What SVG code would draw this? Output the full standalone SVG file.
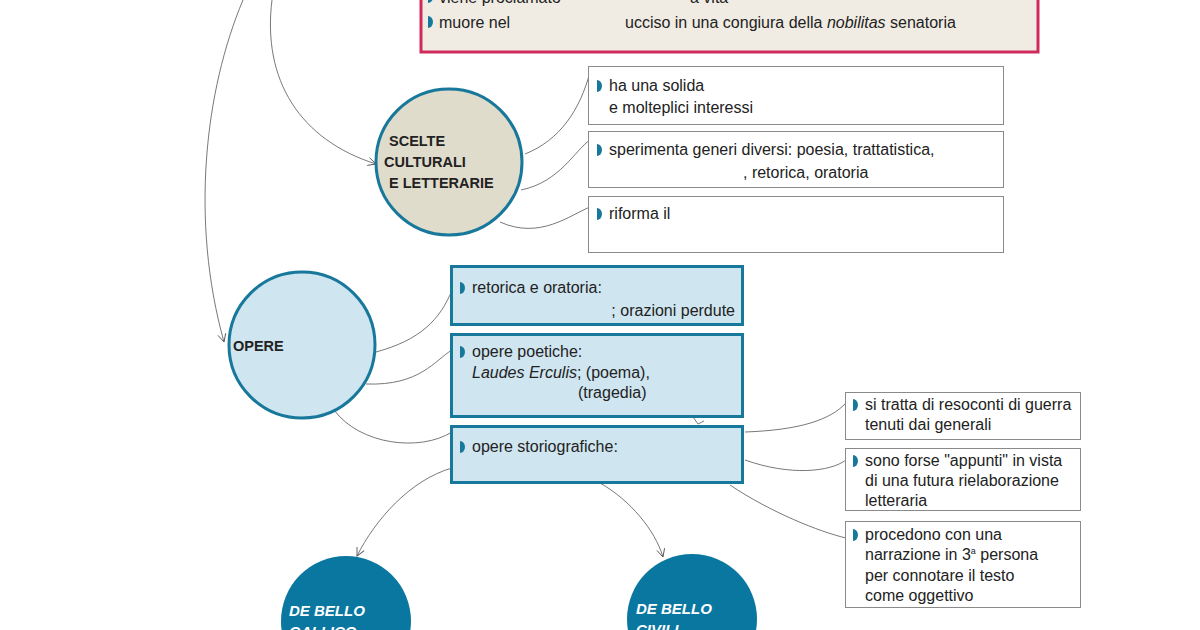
<svg xmlns="http://www.w3.org/2000/svg" width="1200" height="630" viewBox="0 0 1200 630">
<style>
text{font-family:"Liberation Sans",Arial,sans-serif;font-size:16px;fill:#222}
.b{font-weight:bold;font-size:14.5px;fill:#222}
.w{font-weight:bold;font-style:italic;font-size:15px;fill:#fff}
.c{fill:none;stroke:#555;stroke-width:0.8}
.wb{fill:#fff;stroke:#8a8a8a;stroke-width:1}
.lb{fill:#cfe5f0;stroke:#17789b;stroke-width:3}
</style>
<defs>
<path id="bul" d="M0,-6 A5,6 0 0 1 0,6 Z" fill="#17789b"/>
<marker id="ar" markerWidth="10" markerHeight="10" refX="9" refY="5" orient="auto" markerUnits="userSpaceOnUse">
<path d="M1,1 L9,5 L1,9" fill="none" stroke="#555" stroke-width="0.9"/>
</marker>
</defs>
<rect width="1200" height="630" fill="#fff"/>
<g id="connectors">
<path class="c" d="M243,0 C205,90 190,220 224,342" marker-end="url(#ar)"/>
<path class="c" d="M272,0 C262,80 300,140 376,164" marker-end="url(#ar)"/>
<path class="c" d="M525,154 C560,140 580,110 590,72"/>
<path class="c" d="M521,190 C560,182 575,150 590,140"/>
<path class="c" d="M500,222 C540,240 570,215 590,207"/>
<path class="c" d="M376,352 C420,340 440,320 452,290"/>
<path class="c" d="M366,384 C420,386 435,360 452,350"/>
<path class="c" d="M334,410 C360,445 420,452 452,432"/>
<path class="c" d="M745,432 C800,430 830,420 846,403"/>
<path class="c" d="M745,460 C790,476 830,472 846,460"/>
<path class="c" d="M730,485 C770,512 820,532 846,538"/>
<path class="c" d="M452,468 C410,480 375,520 357,556" marker-end="url(#ar)"/>
<path class="c" d="M600,483 C630,500 655,530 663,557" marker-end="url(#ar)"/>
<path class="c" d="M693,417 L698,424 L704,421"/>
</g>
<g id="vita">
<rect x="421" y="-10" width="617" height="62" fill="#f0ece3" stroke="#d02a5a" stroke-width="3"/>
<use href="#bul" x="428" y="-3"/>
<text x="439" y="3">viene proclamato</text>
<text x="690" y="3">a vita</text>
<use href="#bul" x="428" y="22"/>
<text x="439" y="28">muore nel</text>
<text x="625" y="28">ucciso in una congiura della <tspan font-style="italic">nobilitas</tspan> senatoria</text>
</g>
<g id="scelte">
<circle cx="449" cy="162" r="73" fill="#e0dccb" stroke="#17789b" stroke-width="3"/>
<text class="b" x="389" y="146">SCELTE</text>
<text class="b" x="384" y="167">CULTURALI</text>
<text class="b" x="389" y="188">E LETTERARIE</text>
</g>
<g id="s1">
<rect class="wb" x="588.5" y="66.5" width="415" height="58"/>
<use href="#bul" x="597" y="86"/>
<text x="609" y="91">ha una solida</text>
<text x="609" y="113">e molteplici interessi</text>
</g>
<g id="s2">
<rect class="wb" x="588.5" y="131.5" width="415" height="56"/>
<use href="#bul" x="597" y="150"/>
<text x="609" y="155">sperimenta generi diversi: poesia, trattatistica,</text>
<text x="743" y="178">, retorica, oratoria</text>
</g>
<g id="s3">
<rect class="wb" x="588.5" y="196.5" width="415" height="56"/>
<use href="#bul" x="597" y="214"/>
<text x="609" y="219">riforma il</text>
</g>
<g id="opere">
<circle cx="302" cy="345" r="73" fill="#cfe5f0" stroke="#17789b" stroke-width="3"/>
<text class="b" x="233" y="351">OPERE</text>
</g>
<g id="o1">
<rect class="lb" x="451.5" y="266.5" width="291" height="58"/>
<use href="#bul" x="460" y="288"/>
<text x="472" y="293">retorica e oratoria:</text>
<text x="735" y="316" text-anchor="end">; orazioni perdute</text>
</g>
<g id="o2">
<rect class="lb" x="451.5" y="334.5" width="291" height="82"/>
<use href="#bul" x="460" y="352"/>
<text x="472" y="357">opere poetiche:</text>
<text x="472" y="378"><tspan font-style="italic">Laudes Erculis</tspan>; (poema),</text>
<text x="578" y="398">(tragedia)</text>
</g>
<g id="o3">
<rect class="lb" x="451.5" y="426.5" width="291" height="56"/>
<use href="#bul" x="460" y="447"/>
<text x="472" y="452">opere storiografiche:</text>
</g>
<g id="r1">
<rect class="wb" x="845.5" y="392.5" width="235" height="47"/>
<use href="#bul" x="853" y="405"/>
<text x="865" y="410">si tratta di resoconti di guerra</text>
<text x="865" y="430">tenuti dai generali</text>
</g>
<g id="r2">
<rect class="wb" x="845.5" y="448.5" width="235" height="62"/>
<use href="#bul" x="853" y="461"/>
<text x="865" y="466">sono forse "appunti" in vista</text>
<text x="865" y="486">di una futura rielaborazione</text>
<text x="865" y="506">letteraria</text>
</g>
<g id="r3">
<rect class="wb" x="845.5" y="521.5" width="235" height="86"/>
<use href="#bul" x="853" y="535"/>
<text x="865" y="540">procedono con una</text>
<text x="865" y="560">narrazione in 3<tspan font-size="9" dy="-6">a</tspan><tspan dy="6"> persona</tspan></text>
<text x="865" y="581">per connotare il testo</text>
<text x="865" y="601">come oggettivo</text>
</g>
<g id="gallico">
<circle cx="346" cy="621" r="65" fill="#0a77a0"/>
<text class="w" x="289" y="616">DE BELLO</text>
<text class="w" x="289" y="637">GALLICO</text>
</g>
<g id="civili">
<circle cx="692" cy="619" r="65" fill="#0a77a0"/>
<text class="w" x="636" y="614">DE BELLO</text>
<text class="w" x="636" y="635">CIVILI</text>
</g>
</svg>
